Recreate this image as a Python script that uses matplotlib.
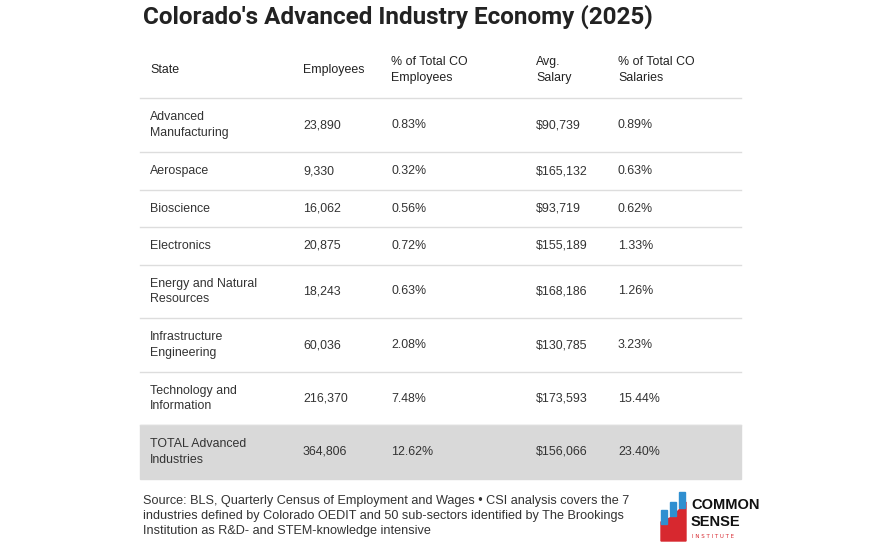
import matplotlib
matplotlib.use("Agg")
import matplotlib.pyplot as plt
from matplotlib.patches import Rectangle, Polygon

title = "Colorado's Advanced Industry Economy (2025)"
headers = ["State", "Employees", "% of Total CO\nEmployees", "Avg.\nSalary", "% of Total CO\nSalaries"]
industries = ["Advanced\nManufacturing", "Aerospace", "Bioscience", "Electronics",
              "Energy and Natural\nResources", "Infrastructure\nEngineering",
              "Technology and\nInformation", "TOTAL Advanced\nIndustries"]
employees = ["23,890", "9,330", "16,062", "20,875", "18,243", "60,036", "216,370", "364,806"]
pct_emp = ["0.83%", "0.32%", "0.56%", "0.72%", "0.63%", "2.08%", "7.48%", "12.62%"]
salary = ["$90,739", "$165,132", "$93,719", "$155,189", "$168,186", "$130,785", "$173,593", "$156,066"]
pct_sal = ["0.89%", "0.63%", "0.62%", "1.33%", "1.26%", "3.23%", "15.44%", "23.40%"]
source = ("Source: BLS, Quarterly Census of Employment and Wages • CSI analysis covers the 7\n"
          "industries defined by Colorado OEDIT and 50 sub-sectors identified by The Brookings\n"
          "Institution as R&D- and STEM-knowledge intensive")

W, H = 875, 548
fig = plt.figure(figsize=(W/100, H/100), dpi=100)
body = ['Liberation Sans', 'DejaVu Sans']

def Y(py): return 1 - py/H
def X(px): return px/W

fig.text(X(143), Y(17), title, fontsize=17.5, fontweight='bold', color='#222222', va='center',
         family=['Roboto', 'DejaVu Sans'])

cols = [150, 303, 391, 536, 618]
x0, x1 = 140, 741
fs = 8.9
fig.text(X(cols[0]), Y(70), headers[0], fontsize=fs, color='#222222', va='center', family=body)
for c, h in zip(cols[1:], headers[1:]):
    fig.text(X(c), Y(70), h, fontsize=fs, color='#222222', va='center', linespacing=1.35, family=body)

bounds = [98, 152, 190, 227, 265, 318, 372, 425, 479]
fig.add_artist(plt.Line2D([X(x0), X(x1)], [Y(98), Y(98)], color='#dddddd', lw=1))
for i in range(8):
    top, bot = bounds[i], bounds[i+1]
    if i == 7:
        fig.add_artist(Rectangle((X(x0), Y(bot)), X(x1)-X(x0), Y(top)-Y(bot),
                                 transform=fig.transFigure, color='#d9d9d9', zorder=0))
    else:
        fig.add_artist(plt.Line2D([X(x0), X(x1)], [Y(bot), Y(bot)], color='#dddddd', lw=1))
    yc = Y((top+bot)/2)
    vals = [industries[i], employees[i], pct_emp[i], salary[i], pct_sal[i]]
    for c, v in zip(cols, vals):
        fig.text(X(c), yc, v, fontsize=fs, color='#333333', va='center', linespacing=1.35, family=body)

fig.text(X(143), Y(516), source, fontsize=9.1, color='#333333', va='center', linespacing=1.35, family=body)

# logo
red, blue = '#d7282f', '#2f8fd0'
fig.add_artist(Polygon([(X(661), Y(541)), (X(661), Y(522)), (X(672), Y(517)), (X(682), Y(507)),
                        (X(686), Y(502)), (X(686), Y(541))], closed=True,
                       transform=fig.transFigure, color=red))
for bx, btop, bbot in [(661, 510, 524), (670, 502, 516), (679, 492, 508)]:
    fig.add_artist(Rectangle((X(bx), Y(bbot)), X(6), Y(btop)-Y(bbot),
                             transform=fig.transFigure, color=blue))
fig.text(X(691), Y(505), "COMMON", fontsize=10.5, color='#111111', va='center',
         family=['Liberation Sans Narrow', 'Liberation Sans'], fontweight='bold')
fig.text(X(691), Y(522), "SENSE", fontsize=10.5, color='#111111', va='center',
         family=['Liberation Sans Narrow', 'Liberation Sans'], fontweight='bold')
fig.text(X(692), Y(537), "I N S T I T U T E", fontsize=4, color=red, va='center')

fig.savefig("out.png", dpi=100, facecolor='white')
